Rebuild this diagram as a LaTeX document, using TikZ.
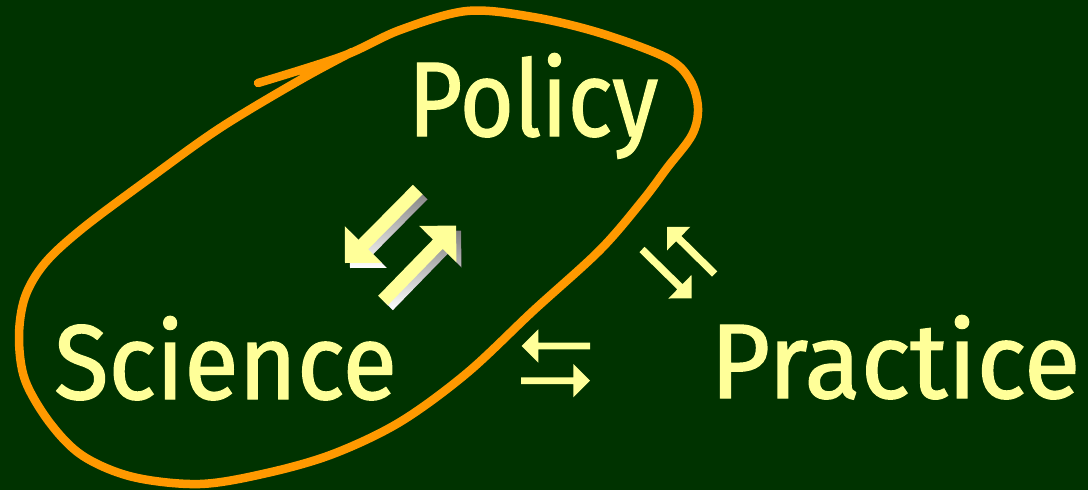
\documentclass[tikz,border=0pt]{standalone}
\usepackage{fontspec}
\setmainfont{Fira Sans}
\newfontfamily\chalkfont{Fira Sans}[FakeBold=1.3]
\usetikzlibrary{calc}
\definecolor{board}{HTML}{003300}
\definecolor{chalk}{HTML}{FFFF99}
\definecolor{loop}{HTML}{FF9900}
\definecolor{shade}{HTML}{808080}
\tikzset{
  word/.style={text=chalk, inner sep=0pt, anchor=base west, font=\chalkfont\fontsize{106}{106}\selectfont},
  loopline/.style={draw=loop, line width=8.5pt, line cap=round, line join=round},
}
% fat arrow polygon: #1 tail coordinate, #2 tip coordinate, #3 shaft half width, #4 head length, #5 head half width, #6 fill colour
\newcommand\fatarrowpoly[6]{%
  \coordinate (#1-#2-b) at ($(#2)!#4!(#1)$);
  \fill[#6] ($(#1)!#3!90:(#2)$) -- ($(#1-#2-b)!#3!90:(#2)$) -- ($(#1-#2-b)!#5!90:(#2)$) -- (#2)
    -- ($(#1-#2-b)!#5!-90:(#2)$) -- ($(#1-#2-b)!#3!-90:(#2)$) -- ($(#1)!#3!-90:(#2)$) -- cycle;
}
\begin{document}
\begin{tikzpicture}[x=1pt,y=-1pt]
\fill[board] (0,0) rectangle (1088,490);
\useasboundingbox (0,0) rectangle (1088,490);

% words
\node[word] (policy) at (408,136) {\scalebox{0.88}[1]{Policy}};
\node[word] (science) at (54,399) {\scalebox{0.94}[1]{Science}};
\node[word] (practice) at (710,398) {\scalebox{0.975}[1]{Practice}};

% orange loop
\draw[loopline] plot[smooth, tension=0.55] coordinates {
  (258,83) (343,56) (400,30) (467,11) (533,17) (600,33) (667,58) (690,80) (698,108)
  (692,135) (667,168) (643,200) (600,250) (533,311) (467,373) (400,422) (333,454)
  (267,473) (200,484) (133,477) (83,456) (50,423) (25,380) (19,337) (25,297) (45,263)
  (83,228) (150,178) (220,128) (300,80) (352,52)};

% big arrows (Science <-> Policy) with their shadows
\coordinate (a1t) at (417.7,189.5);
\coordinate (a1h) at (345,263);
\coordinate (a2t) at (383,300.5);
\coordinate (a2h) at (456,225.5);
\coordinate (s1t) at ($(a1t)+(5,5)$);
\coordinate (s1h) at ($(a1h)+(5,5)$);
\coordinate (s2t) at ($(a2t)+(5,5)$);
\coordinate (s2h) at ($(a2h)+(5,5)$);
\fatarrowpoly{s1t}{s1h}{6.75pt}{26pt}{26pt}{shade}
\fatarrowpoly{s2t}{s2h}{6.75pt}{26pt}{26pt}{shade}
\fatarrowpoly{a1t}{a1h}{6.75pt}{26pt}{26pt}{chalk}
\fatarrowpoly{a2t}{a2h}{6.75pt}{26pt}{26pt}{chalk}

% small arrows (Policy <-> Practice)
\coordinate (b1t) at (714.7,274);
\coordinate (b1h) at (667,227);
\coordinate (b2t) at (642,249.5);
\coordinate (b2h) at (691.7,298.3);
\fatarrowpoly{b1t}{b1h}{3.7pt}{16.5pt}{16.5pt}{chalk}
\fatarrowpoly{b2t}{b2h}{3.7pt}{16.5pt}{16.5pt}{chalk}

% small arrows (Science <-> Practice)
\coordinate (c1t) at (590,346);
\coordinate (c1h) at (521.7,346);
\coordinate (c2t) at (521,380.7);
\coordinate (c2h) at (590,380.7);
\fatarrowpoly{c1t}{c1h}{3.4pt}{16.6pt}{16.6pt}{chalk}
\fatarrowpoly{c2t}{c2h}{3.4pt}{16.6pt}{16.6pt}{chalk}
\end{tikzpicture}
\end{document}
